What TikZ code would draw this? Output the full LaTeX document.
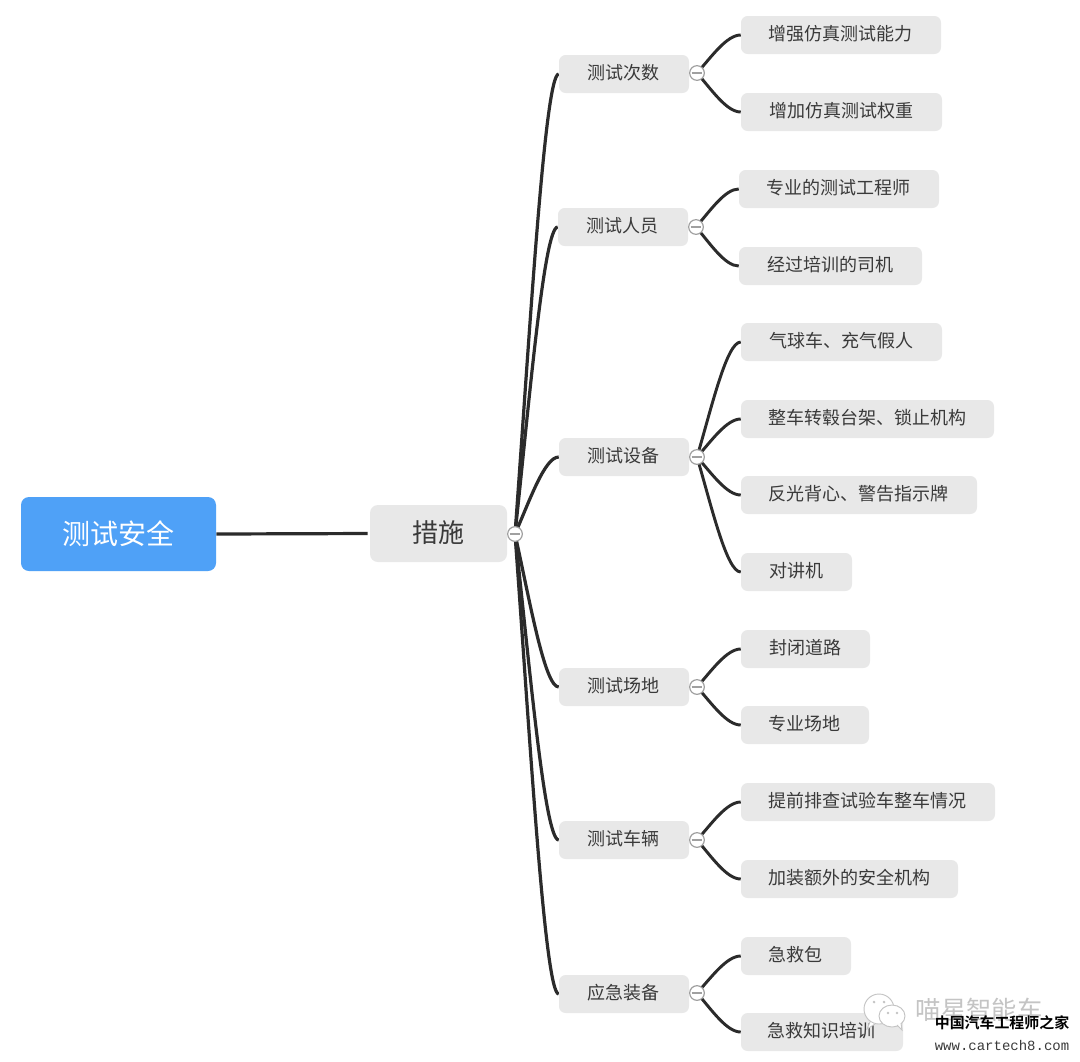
\documentclass[tikz,border=0pt]{standalone}
\usepackage{fontspec}
\setmainfont{Noto Sans CJK SC}
\newfontfamily\cjkbold{Noto Sans CJK SC Bold}
\setmonofont{Liberation Mono}
\usetikzlibrary{calc,backgrounds}
\definecolor{boxgrey}{HTML}{E8E8E8}
\definecolor{rootblue}{HTML}{4FA1F7}
\definecolor{inkdark}{HTML}{2B2B2B}
\definecolor{txtdark}{HTML}{3A3A3A}
\definecolor{ringgrey}{HTML}{A0A0A0}
\definecolor{wmgrey}{HTML}{C4C4C4}
\tikzset{
  x=.75pt,y=-.75pt,
  pill/.style={fill=boxgrey,rounded corners=5pt,inner sep=0pt,text=txtdark,font=\fontsize{13.5pt}{16pt}\selectfont,text depth=0pt},
  rootbox/.style={pill,fill=rootblue,text=white,font=\fontsize{21pt}{25pt}\selectfont,rounded corners=6pt},
  midbox/.style={pill,font=\fontsize{19.5pt}{23pt}\selectfont,rounded corners=6pt},
  edgeone/.style={draw=inkdark,line width=2.4pt},
  edgetwo/.style={draw=inkdark,line width=2.2pt},
  toggle/.style={circle,draw=ringgrey,line width=.9pt,fill=white,minimum size=11pt,inner sep=0pt,
    path picture={\draw[ringgrey,line width=1.2pt] ($(path picture bounding box.west)+(1.5pt,0)$) -- ($(path picture bounding box.east)+(-1.5pt,0)$);}},
}
% name, x1, x2, y1, y2, style, text
\newcommand{\boxnode}[7]{\node[#6,minimum width={(#3-#2)*.75pt},minimum height={(#5-#4)*.75pt}] (#1) at ({(#2+#3)/2},{(#4+#5)/2}) {\hspace{-.6pt}\raisebox{2.6pt}{#7}};}
\newcommand{\conn}[3][edgetwo]{\draw[#1] let \p1=(#2.center),\p2=(#3.west) in (#2.center) .. controls ({\x1+.34*(\x2-\x1)},{\y1+.44*(\y2-\y1)}) and ({\x1+.68*(\x2-\x1)},\y2) .. (#3.west);}
\begin{document}
\begin{tikzpicture}
\useasboundingbox (0,0) rectangle (1080,1061);

\boxnode{root}{21}{216}{497}{571}{rootbox}{测试安全}
\boxnode{mid}{370}{507}{505}{562}{midbox}{措施}

\boxnode{a}{559}{689}{55}{93}{pill}{测试次数}
\boxnode{b}{558}{688}{208}{246}{pill}{测试人员}
\boxnode{c}{559}{689}{438}{476}{pill}{测试设备}
\boxnode{d}{559}{689}{668}{706}{pill}{测试场地}
\boxnode{e}{559}{689}{821}{859}{pill}{测试车辆}
\boxnode{f}{559}{689}{975}{1013}{pill}{应急装备}

\boxnode{a1}{741}{941}{16}{54}{pill}{增强仿真测试能力}
\boxnode{a2}{741}{942}{93}{131}{pill}{增加仿真测试权重}
\boxnode{b1}{739}{939}{170}{208}{pill}{专业的测试工程师}
\boxnode{b2}{739}{922}{247}{285}{pill}{经过培训的司机}
\boxnode{c1}{741}{942}{323}{361}{pill}{气球车、充气假人}
\boxnode{c2}{741}{994}{400}{438}{pill}{整车转毂台架、锁止机构}
\boxnode{c3}{741}{977}{476}{514}{pill}{反光背心、警告指示牌}
\boxnode{c4}{741}{852}{553}{591}{pill}{对讲机}
\boxnode{d1}{741}{870}{630}{668}{pill}{封闭道路}
\boxnode{d2}{741}{869}{706}{744}{pill}{专业场地}
\boxnode{e1}{741}{995}{783}{821}{pill}{提前排查试验车整车情况}
\boxnode{e2}{741}{958}{860}{898}{pill}{加装额外的安全机构}
\boxnode{f1}{741}{851}{937}{975}{pill}{急救包}
\boxnode{f2}{741}{903}{1013}{1051}{pill}{急救知识培训}

\node[toggle] (tm) at (515,534) {};
\node[toggle] (ta) at (697,73) {};
\node[toggle] (tb) at (696,227) {};
\node[toggle] (tc) at (697,457) {};
\node[toggle] (td) at (697,687) {};
\node[toggle] (te) at (697,840) {};
\node[toggle] (tf) at (697,993) {};

\begin{scope}[on background layer]
  \fill[white] (0,0) rectangle (1080,1061);
  \draw[edgeone,shorten >=1.5pt] (root.east) -- (mid.west);
  \foreach \k in {a,b,c,d,e,f}{\conn[edgeone]{tm}{\k}}
  \conn{ta}{a1}\conn{ta}{a2}
  \conn{tb}{b1}\conn{tb}{b2}
  \conn{tc}{c1}\conn{tc}{c2}\conn{tc}{c3}\conn{tc}{c4}
  \conn{td}{d1}\conn{td}{d2}
  \conn{te}{e1}\conn{te}{e2}
  \conn{tf}{f1}\conn{tf}{f2}
\end{scope}

% watermark
\draw[wmgrey,line width=.7pt,fill=white] (879,1009) ellipse [x radius=15,y radius=15];
\draw[wmgrey,line width=.7pt,fill=white] (870,1022) -- (867,1029) -- (875,1024);
\draw[wmgrey,line width=.7pt,fill=white] (892,1016) ellipse [x radius=13,y radius=11];
\draw[wmgrey,line width=.7pt,fill=white] (897,1025) -- (902,1030) -- (901,1023);
\fill[wmgrey] (874,1002) circle (1.1pt) (884,1002) circle (1.1pt) (888,1013) circle (1pt) (897,1013) circle (1pt);
\node[text=wmgrey,inner sep=0pt,font=\fontsize{19pt}{22pt}\selectfont] (wma) at (979,1010) {喵星智能车};
\node[text=black,inner sep=0pt,font=\cjkbold\fontsize{11.2pt}{13pt}\selectfont] (wmb) at (1002,1023) {中国汽车工程师之家};
\node[text=txtdark,inner sep=0pt,font=\ttfamily\fontsize{10.5pt}{12pt}\selectfont] (wmc) at (1002,1045) {www.cartech8.com};
\end{tikzpicture}
\end{document}
